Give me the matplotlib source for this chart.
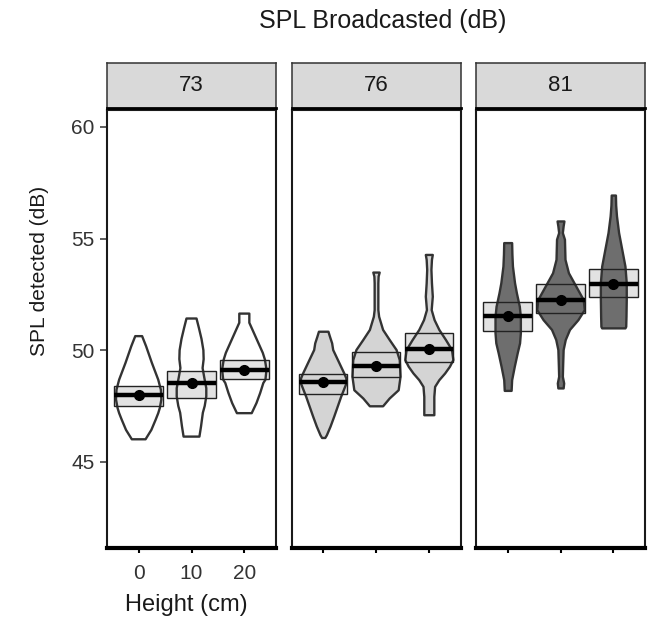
import matplotlib
matplotlib.use('Agg')
import matplotlib.pyplot as plt
from matplotlib.patches import Rectangle

plt.rcParams['font.family'] = ['Liberation Sans', 'DejaVu Sans']

# %%
spl_levels = ['73', '76', '81']
heights = ['0', '10', '20']

# crossbar: mean with lower / upper edge (dB)
means_73 = [47.99, 48.53, 49.13]
lo_73 = [47.48, 47.86, 48.71]
hi_73 = [48.41, 49.05, 49.58]
means_76 = [48.58, 49.31, 50.07]
lo_76 = [48.04, 48.80, 49.46]
hi_76 = [48.95, 49.90, 50.78]
means_81 = [51.55, 52.27, 52.98]
lo_81 = [50.88, 51.67, 52.39]
hi_81 = [52.15, 52.95, 53.65]

# violin outlines: SPL levels (bottom to top) and half widths
vy_73 = [[46.01, 46.43, 46.88, 47.18, 47.41, 47.8, 48.23, 48.68, 49.43, 50.18, 50.63],
         [46.13, 46.58, 47.2, 47.5, 47.93, 48.3, 48.8, 49.2, 49.6, 50.0, 50.5, 51.0, 51.42],
         [47.18, 47.63, 48.08, 48.53, 48.68, 49.13, 49.58, 49.88, 50.33, 50.78, 51.23, 51.64]]
vw_73 = [[0.13, 0.24, 0.32, 0.37, 0.40, 0.43, 0.42, 0.37, 0.25, 0.14, 0.065],
         [0.15, 0.18, 0.215, 0.25, 0.28, 0.28, 0.24, 0.21, 0.23, 0.225, 0.19, 0.14, 0.095],
         [0.14, 0.23, 0.30, 0.36, 0.40, 0.42, 0.39, 0.35, 0.265, 0.18, 0.095, 0.095]]

vy_76 = [[46.09, 46.21, 46.60, 47.05, 47.49, 47.93, 48.23, 48.53, 48.75, 48.98, 49.43, 49.73, 50.03, 50.33, 50.62, 50.85],
         [47.51, 47.86, 48.23, 48.83, 49.58, 50.03, 50.48, 50.93, 51.52, 51.82, 52.27, 53.02, 53.32, 53.50],
         [47.11, 47.93, 48.38, 48.68, 48.98, 49.28, 49.58, 50.03, 50.48, 50.93, 51.37, 51.82, 52.42, 53.02, 53.62, 54.07, 54.29]]
vw_76 = [[0.03, 0.06, 0.13, 0.2, 0.265, 0.33, 0.38, 0.43, 0.43, 0.39, 0.30, 0.24, 0.18, 0.16, 0.12, 0.09],
         [0.125, 0.25, 0.42, 0.455, 0.44, 0.38, 0.25, 0.125, 0.05, 0.035, 0.035, 0.035, 0.04, 0.06],
         [0.095, 0.095, 0.11, 0.19, 0.30, 0.39, 0.455, 0.43, 0.315, 0.19, 0.1, 0.045, 0.066, 0.05, 0.04, 0.05, 0.066]]

vy_81 = [[48.2, 48.68, 49.28, 49.88, 50.33, 50.78, 51.5, 51.97, 52.57, 53.02, 53.77, 54.3, 54.82],
         [48.31, 48.53, 48.83, 49.28, 50.03, 50.48, 50.93, 51.37, 51.82, 52.27, 52.87, 53.47, 54.07, 54.97, 55.27, 55.57, 55.79],
         [51.0, 51.07, 51.52, 52.27, 53.02, 53.77, 54.52, 55.27, 56.02, 56.5, 56.95]]
vw_81 = [[0.065, 0.075, 0.125, 0.18, 0.225, 0.24, 0.24, 0.22, 0.165, 0.13, 0.09, 0.08, 0.075],
         [0.05, 0.06, 0.035, 0.04, 0.05, 0.09, 0.17, 0.33, 0.45, 0.43, 0.29, 0.15, 0.085, 0.075, 0.035, 0.05, 0.065],
         [0.22, 0.235, 0.24, 0.245, 0.245, 0.22, 0.16, 0.1, 0.06, 0.045, 0.04]]

panels = [(means_73, lo_73, hi_73, vy_73, vw_73, 'none'),
          (means_76, lo_76, hi_76, vy_76, vw_76, '#d4d4d4'),
          (means_81, lo_81, hi_81, vy_81, vw_81, '#6e6e6e')]

# %%
fig = plt.figure(figsize=(6.49, 6.21), dpi=100)
W, H = 649, 621
lefts = [107, 291.5, 476]
pw = 169
ptop, pbot = 110, 548
stop, sbot = 63, 108
box_w = 0.92

for k, (mn, lo, hi, vys, vws, fc) in enumerate(panels):
    ax = fig.add_axes([lefts[k] / W, 1 - pbot / H, pw / W, (pbot - ptop) / H])
    for i in range(3):
        x = i + 1
        # crossbar fill sits under the violin
        ax.add_patch(Rectangle((x - box_w / 2, lo[i]), box_w, hi[i] - lo[i],
                               facecolor='#e2e2e2', edgecolor='none', zorder=1))
        left = [x - w for w in vws[i]]
        right = [x + w for w in vws[i]]
        ax.fill_betweenx(vys[i], left, right, facecolor=fc, edgecolor='#333333',
                         linewidth=1.7, joinstyle='round', zorder=2)
        ax.add_patch(Rectangle((x - box_w / 2, lo[i]), box_w, hi[i] - lo[i],
                               facecolor='none', edgecolor='#222222', linewidth=1.0, zorder=3))
        ax.plot([x - box_w / 2, x + box_w / 2], [mn[i], mn[i]], color='black',
                linewidth=3.2, solid_capstyle='butt', zorder=4)
        ax.plot(x, mn[i], 'o', color='black', markersize=7, zorder=5)

    ax.set_xlim(0.4, 3.6)
    ax.set_ylim(41.14, 60.76)
    ax.set_xticks([1, 2, 3])
    for s in ax.spines.values():
        s.set_linewidth(1.5)
        s.set_color('#1a1a1a')
    ax.spines['bottom'].set_linewidth(3)
    ax.spines['bottom'].set_color('black')
    ax.tick_params(axis='x', length=3.8, width=1.5, color='black', pad=8,
                   labelsize=15, labelcolor='#333333')
    if k == 0:
        ax.set_xticklabels(heights)
        ax.set_yticks([45, 50, 55, 60])
        ax.tick_params(axis='y', length=5, width=1.1, color='#333333', pad=4,
                       labelsize=15, labelcolor='#333333')
    else:
        ax.set_xticklabels([])
        ax.set_yticks([])

    # strip header
    sax = fig.add_axes([lefts[k] / W, 1 - sbot / H, pw / W, (sbot - stop) / H])
    sax.set_facecolor('#d9d9d9')
    sax.set_xticks([])
    sax.set_yticks([])
    for s in sax.spines.values():
        s.set_linewidth(1.1)
        s.set_color('#333333')
    sax.spines['bottom'].set_linewidth(2)
    sax.spines['bottom'].set_color('black')
    sax.text(0.5, 0.5, spl_levels[k], ha='center', va='center', fontsize=16,
             color='#1a1a1a', transform=sax.transAxes)

fig.text(383 / W, 1 - 21 / H, 'SPL Broadcasted (dB)', ha='center', va='center',
         fontsize=18, color='#1a1a1a')
fig.text(40 / W, 1 - 271 / H, 'SPL detected (dB)', ha='center', va='center',
         rotation=90, fontsize=15, color='#1a1a1a')
fig.text(186 / W, 1 - 605 / H, 'Height (cm)', ha='center', va='center',
         fontsize=17, color='#1a1a1a')

fig.savefig('out.png', dpi=100)
